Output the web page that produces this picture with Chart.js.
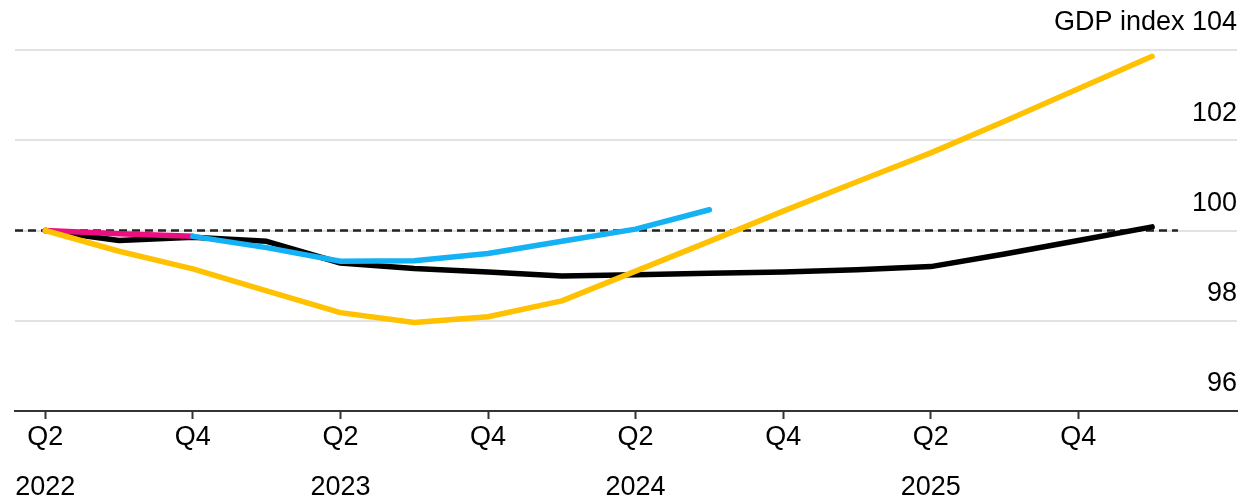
<!DOCTYPE html>
<html>
<head>
<meta charset="utf-8">
<script src="https://cdn.jsdelivr.net/npm/chart.js@4/dist/chart.umd.min.js"></script>
<style>
  html, body { margin: 0; padding: 0; background: #fff; }
  #wrap { width: 1251px; height: 502px; position: relative; }
</style>
</head>
<body>
<div id="wrap"><canvas id="gdp"></canvas></div>
<script>
// quarters from Q2 2022 to Q1 2026
const quarters = ['Q2 2022', 'Q3 2022', 'Q4 2022', 'Q1 2023', 'Q2 2023', 'Q3 2023', 'Q4 2023', 'Q1 2024',
                  'Q2 2024', 'Q3 2024', 'Q4 2024', 'Q1 2025', 'Q2 2025', 'Q3 2025', 'Q4 2025', 'Q1 2026'];

// x tick labels (two lines), one every second quarter
const tickQuarter = ['Q2', 'Q4', 'Q2', 'Q4', 'Q2', 'Q4', 'Q2', 'Q4'];
const tickYear = ['2022', '', '2023', '', '2024', '', '2025', ''];
const yTicks = [96, 98, 100, 102, 104];

// GDP index, Q2 2022 = 100
const pinkSeries = [100, 99.93, 99.87];
const blackSeries = [100, 99.78, 99.85, 99.76, 99.28, 99.16, 99.08, 98.99, 99.02, 99.05, 99.08, 99.13, 99.2, 99.48, 99.78, 100.08];
const blueSeries = [null, null, 99.87, 99.62, 99.32, 99.33, 99.49, 99.76, 100.03, 100.46];
const yellowSeries = [100, 99.54, 99.15, 98.66, 98.18, 97.96, 98.09, 98.44, 99.1, 99.76, 100.43, 101.08, 101.72, 102.42, 103.14, 103.86];

const baseline = 100;

const toPoints = arr => arr.map((v, i) => ({ x: i, y: v }));

const lineStyle = (color) => ({
    borderColor: color,
    borderWidth: 5.5,
    pointRadius: 0,
    tension: 0,
    fill: false,
    borderCapStyle: 'round',
    borderJoinStyle: 'round',
    spanGaps: false
});

const FONT = "'Liberation Sans', Arial, sans-serif";

new Chart(document.getElementById('gdp').getContext('2d'), {
    type: 'line',
    data: {
        datasets: [
            { label: 'yellow', data: toPoints(yellowSeries), ...lineStyle('#ffc100') },
            { label: 'blue', data: toPoints(blueSeries), ...lineStyle('#14b1f4') },
            { label: 'pink', data: toPoints(pinkSeries), ...lineStyle('#ec0d81') },
            { label: 'black', data: toPoints(blackSeries), ...lineStyle('#000000') },
            {
                label: 'baseline',
                data: [{ x: -0.41, y: baseline }, { x: 15.35, y: baseline }],
                borderColor: '#222222',
                borderWidth: 2.5,
                borderDash: [8, 5],
                pointRadius: 0,
                fill: false
            }
        ]
    },
    options: {
        responsive: true,
        maintainAspectRatio: false,
        animation: false,
        layout: { padding: { top: 50, left: 15, right: 0, bottom: 0 } },
        plugins: {
            legend: { display: false },
            tooltip: { enabled: false }
        },
        scales: {
            x: {
                type: 'linear',
                min: -0.41,
                max: 16.15,
                afterBuildTicks: s => { s.ticks = tickQuarter.map((q, i) => ({ value: i * 2 })); },
                afterFit: s => { s.height = 91; },
                grid: {
                    drawOnChartArea: false,
                    drawTicks: true,
                    tickLength: 8,
                    tickWidth: 2,
                    color: '#333333'
                },
                border: { display: true, color: '#333333', width: 2 },
                ticks: {
                    autoSkip: false,
                    maxRotation: 0,
                    padding: -6,
                    color: '#000000',
                    font: { family: FONT, size: 27, lineHeight: 1.85 },
                    callback: v => {
                        const k = Math.round(v / 2);
                        return [tickQuarter[k], tickYear[k]];
                    }
                }
            },
            y: {
                position: 'right',
                min: 96,
                max: 104,
                afterBuildTicks: s => { s.ticks = yTicks.map(v => ({ value: v })); },
                afterFit: s => { s.width = 14; },
                grid: {
                    drawTicks: false,
                    lineWidth: 2,
                    color: ctx => ctx.tick && ctx.tick.value === 96 ? 'rgba(0,0,0,0)' : '#e2e2e2'
                },
                border: { display: false },
                ticks: {
                    mirror: true,
                    padding: 0,
                    labelOffset: -27,
                    color: '#000000',
                    font: { family: FONT, size: 27 },
                    callback: v => v === 104 ? 'GDP index 104' : String(v)
                }
            }
        }
    }
});
</script>
</body>
</html>
